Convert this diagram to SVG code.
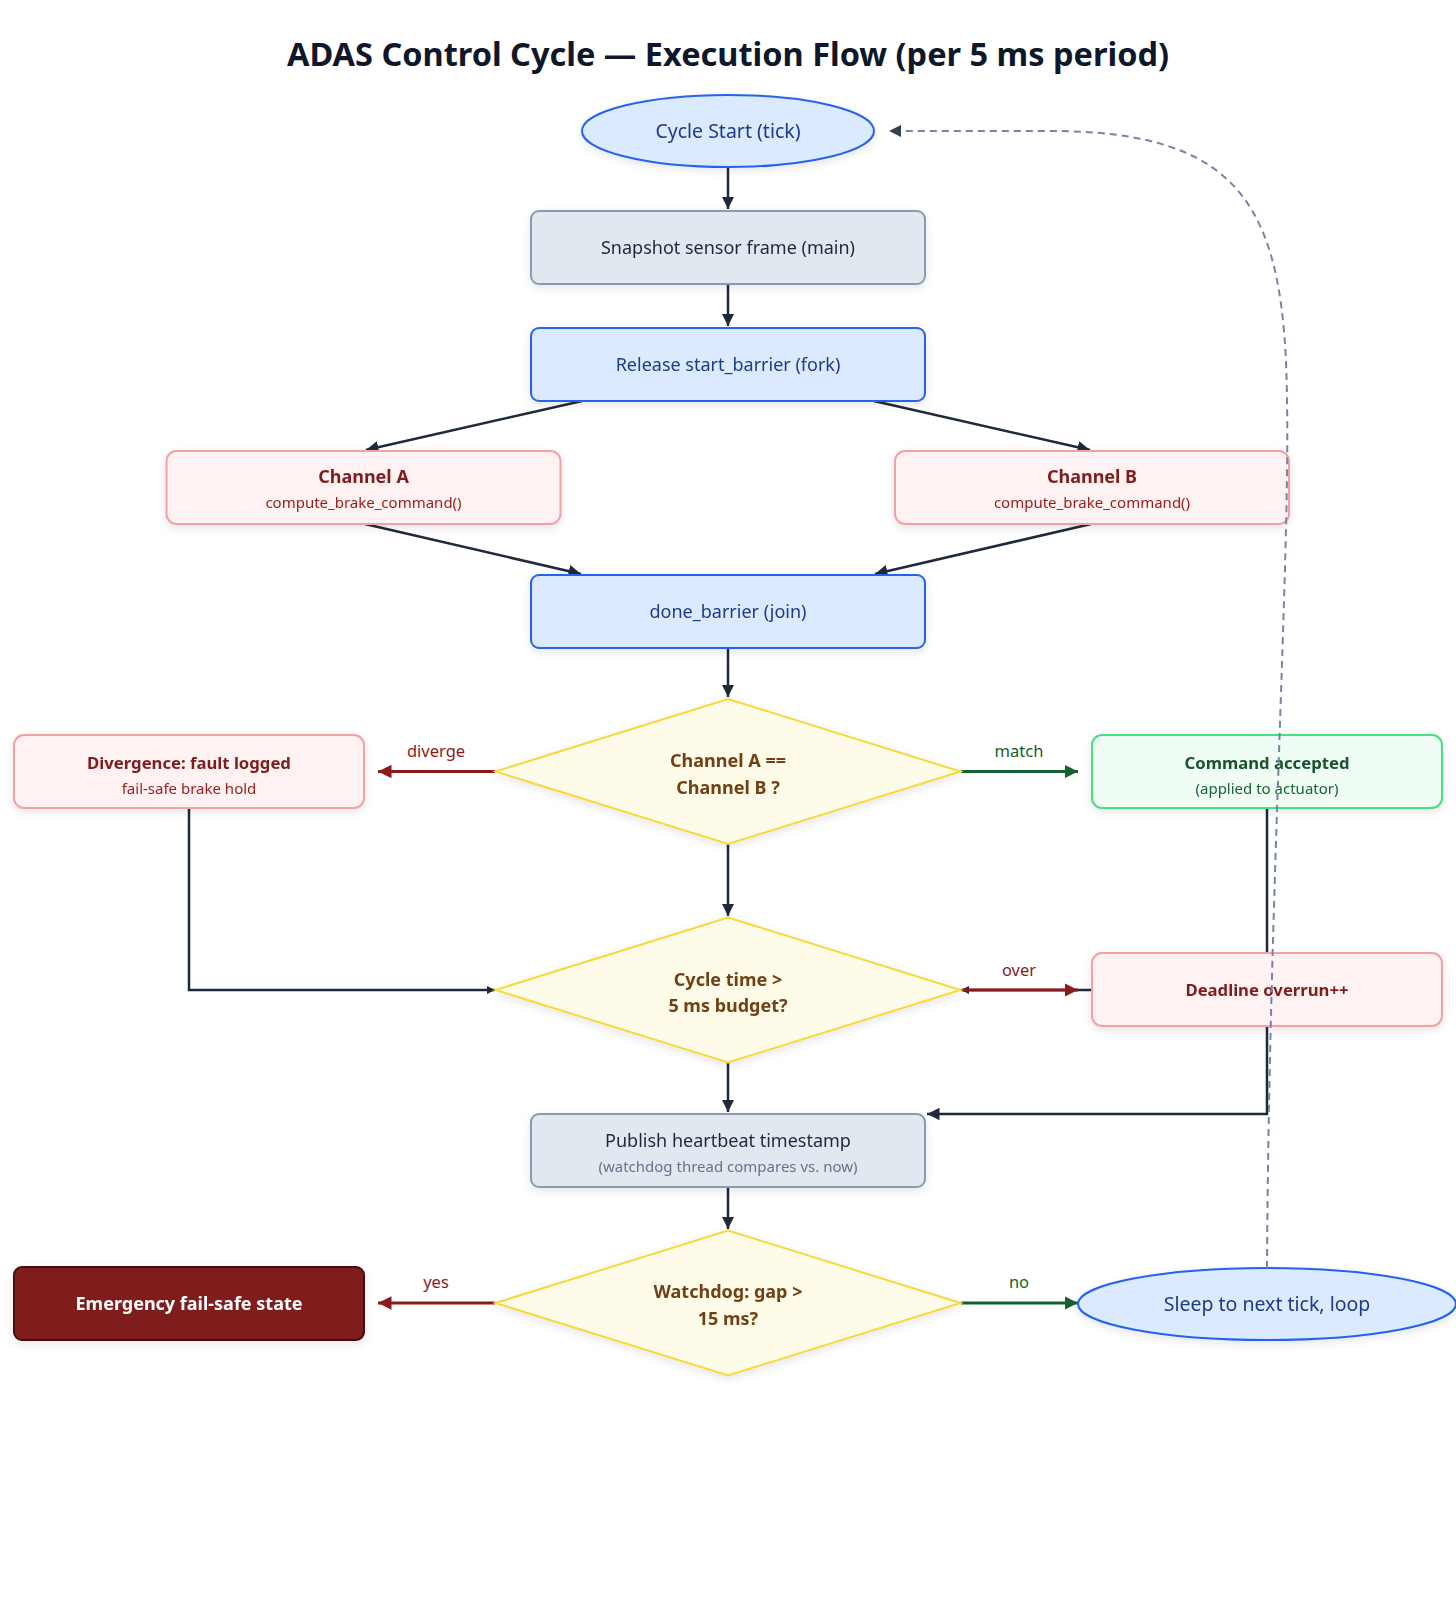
<svg xmlns="http://www.w3.org/2000/svg" width="1456" height="1602" viewBox="0 0 1456 1602">
<defs>
<style>
text{font-family:"Noto Sans","Open Sans","Liberation Sans",sans-serif;text-anchor:middle}
.title{font-size:32.5px;font-weight:700;fill:#0f172a}
.t{font-size:18px}
.el{font-size:19.5px}
.b{font-weight:700}
.sb{font-size:16.7px;font-weight:700}
.s{font-size:15px}
.blue rect,.blue ellipse{fill:#dbeafe;stroke:#2563eb;stroke-width:2}
.blue text{fill:#1e3a8a}
.gray rect{fill:#e2e8f0;stroke:#8a9ab3;stroke-width:2}
.gray text{fill:#1e293b}
.gray .sub{fill:#64748b}
.pink rect{fill:#fef2f2;stroke:#f3a1a1;stroke-width:2}
.pink text{fill:#7f1d1d}
.pink .sub{fill:#991b1b}
.green rect{fill:#f0fdf4;stroke:#4ade80;stroke-width:2}
.green text{fill:#14532d}
.green .sub{fill:#166534}
.dia polygon{fill:#fefce8;stroke:#f8d93a;stroke-width:2}
.dia text{fill:#713f12;font-weight:700}
.emer rect{fill:#7f1d1d;stroke:#450a0a;stroke-width:2}
.emer text{fill:#ffffff;font-weight:700}
.e{fill:none;stroke:#1e293b;stroke-width:2.5}
.er{fill:none;stroke:#8b1a1a;stroke-width:3}
.eg{fill:none;stroke:#14602f;stroke-width:3}
.ed{fill:none;stroke:#7585a3;stroke-width:2;stroke-dasharray:7 5}
.lr{fill:#8b1a1a;font-size:16.5px}
.lg{fill:#14602f;font-size:16.5px}
</style>
<filter id="sh" x="-10%" y="-20%" width="120%" height="150%">
<feDropShadow dx="0" dy="3" stdDeviation="4" flood-color="#0f172a" flood-opacity="0.10"/>
</filter>
<marker id="ad" viewBox="0 0 10 10" refX="10" refY="5" markerWidth="5" markerHeight="5" markerUnits="strokeWidth" orient="auto"><path d="M0,0 L10,5 L0,10 z" fill="#1e293b"/></marker>
<marker id="as" viewBox="0 0 10 10" refX="10" refY="5" markerWidth="3.2" markerHeight="3.2" markerUnits="strokeWidth" orient="auto"><path d="M0,0 L10,5 L0,10 z" fill="#1e293b"/></marker>
<marker id="ar" viewBox="0 0 10 10" refX="10" refY="5" markerWidth="4.5" markerHeight="4.5" markerUnits="strokeWidth" orient="auto"><path d="M0,0 L10,5 L0,10 z" fill="#8b1a1a"/></marker>
<marker id="ag" viewBox="0 0 10 10" refX="10" refY="5" markerWidth="4.5" markerHeight="4.5" markerUnits="strokeWidth" orient="auto"><path d="M0,0 L10,5 L0,10 z" fill="#14602f"/></marker>
<marker id="adash" viewBox="0 0 10 10" refX="10" refY="5" markerWidth="6" markerHeight="6" markerUnits="strokeWidth" orient="auto"><path d="M0,0 L10,5 L0,10 z" fill="#334155"/></marker>
</defs>
<rect width="1456" height="1602" fill="#ffffff"/>
<text class="title" x="728" y="66">ADAS Control Cycle — Execution Flow (per 5 ms period)</text>

<g id="connectors">
<path class="e" d="M728,167 L728,209" marker-end="url(#ad)"/>
<path class="e" d="M728,284 L728,326" marker-end="url(#ad)"/>
<path class="e" d="M582,401 L366,450" marker-end="url(#ad)"/>
<path class="e" d="M874,401 L1090,450" marker-end="url(#ad)"/>
<path class="e" d="M365,524 L581,574" marker-end="url(#ad)"/>
<path class="e" d="M1091,524 L875,574" marker-end="url(#ad)"/>
<path class="e" d="M728,648 L728,697" marker-end="url(#ad)"/>
<path class="e" d="M728,844 L728,916" marker-end="url(#ad)"/>
<path class="e" d="M189,808 L189,990 L495,990" marker-end="url(#as)"/>
<path class="e" d="M1092,990 L961,990" marker-end="url(#as)"/>
<path class="e" d="M1267,808 L1267,953"/>
<path class="e" d="M1267,1026 L1267,1114 L927,1114" marker-end="url(#ad)"/>
<path class="e" d="M728,1063 L728,1112" marker-end="url(#ad)"/>
<path class="e" d="M728,1187 L728,1229" marker-end="url(#ad)"/>
<path class="er" d="M495,771.5 L378,771.5" marker-end="url(#ar)"/>
<path class="eg" d="M961,771.5 L1078,771.5" marker-end="url(#ag)"/>
<path class="er" d="M963,990 L1078,990" marker-end="url(#ar)"/>
<path class="er" d="M495,1303 L378,1303" marker-end="url(#ar)"/>
<path class="eg" d="M961,1303 L1078,1303" marker-end="url(#ag)"/>
<text class="lr" x="436" y="757">diverge</text>
<text class="lg" x="1019" y="757">match</text>
<text class="lr" x="1019" y="976">over</text>
<text class="lr" x="436" y="1288">yes</text>
<text class="lg" x="1019" y="1288">no</text>
</g>

<g id="n-start" class="blue" filter="url(#sh)">
<ellipse cx="728" cy="131" rx="146" ry="36"/>
<text class="el" x="728" y="138">Cycle Start (tick)</text>
</g>
<g id="n-snapshot" class="gray" filter="url(#sh)">
<rect x="531" y="211" width="394" height="73" rx="8"/>
<text class="t" x="728" y="254">Snapshot sensor frame (main)</text>
</g>
<g id="n-release" class="blue" filter="url(#sh)">
<rect x="531" y="328" width="394" height="73" rx="8"/>
<text class="t" x="728" y="371">Release start_barrier (fork)</text>
</g>
<g id="n-chA" class="pink" filter="url(#sh)">
<rect x="166.5" y="451" width="394" height="73" rx="10"/>
<text class="t b" x="363.5" y="483">Channel A</text>
<text class="s sub" x="363.5" y="508">compute_brake_command()</text>
</g>
<g id="n-chB" class="pink" filter="url(#sh)">
<rect x="895" y="451" width="394" height="73" rx="10"/>
<text class="t b" x="1092" y="483">Channel B</text>
<text class="s sub" x="1092" y="508">compute_brake_command()</text>
</g>
<g id="n-done" class="blue" filter="url(#sh)">
<rect x="531" y="575" width="394" height="73" rx="8"/>
<text class="t" x="728" y="618">done_barrier (join)</text>
</g>
<g id="n-cmp" class="dia" filter="url(#sh)">
<polygon points="728,699 960.5,771.5 728,844 495.5,771.5"/>
<text class="t" x="728" y="767">Channel A ==</text>
<text class="t" x="728" y="794">Channel B ?</text>
</g>
<g id="n-div" class="pink" filter="url(#sh)">
<rect x="14" y="735" width="350" height="73" rx="10"/>
<text class="sb" x="189" y="769">Divergence: fault logged</text>
<text class="s sub" x="189" y="794">fail-safe brake hold</text>
</g>
<g id="n-acc" class="green" filter="url(#sh)">
<rect x="1092" y="735" width="350" height="73" rx="10"/>
<text class="sb" x="1267" y="769">Command accepted</text>
<text class="s sub" x="1267" y="794">(applied to actuator)</text>
</g>
<g id="n-time" class="dia" filter="url(#sh)">
<polygon points="728,917.5 960.5,990 728,1062.5 495.5,990"/>
<text class="t" x="728" y="986">Cycle time &gt;</text>
<text class="t" x="728" y="1012">5 ms budget?</text>
</g>
<g id="n-overrun" class="pink" filter="url(#sh)">
<rect x="1092" y="953" width="350" height="73" rx="10"/>
<text class="sb" x="1267" y="996">Deadline overrun++</text>
</g>
<g id="n-publish" class="gray" filter="url(#sh)">
<rect x="531" y="1114" width="394" height="73" rx="8"/>
<text class="t" x="728" y="1147">Publish heartbeat timestamp</text>
<text class="s sub" x="728" y="1172">(watchdog thread compares vs. now)</text>
</g>
<g id="n-wd" class="dia" filter="url(#sh)">
<polygon points="728,1230.5 960.5,1303 728,1375.5 495.5,1303"/>
<text class="t" x="728" y="1298">Watchdog: gap &gt;</text>
<text class="t" x="728" y="1325">15 ms?</text>
</g>
<g id="n-emer" class="emer" filter="url(#sh)">
<rect x="14" y="1267" width="350" height="73" rx="8"/>
<text class="t" x="189" y="1310">Emergency fail-safe state</text>
</g>
<g id="n-sleep" class="blue" filter="url(#sh)">
<ellipse cx="1267" cy="1304" rx="189" ry="36"/>
<text class="el" x="1267" y="1311">Sleep to next tick, loop</text>
</g>

<g id="loop-connector">
<path class="ed" d="M1267,1268 C1269,900 1290,560 1287,400 C1285,210 1245,131 1050,131 L889,131" marker-end="url(#adash)"/>
</g>
</svg>
